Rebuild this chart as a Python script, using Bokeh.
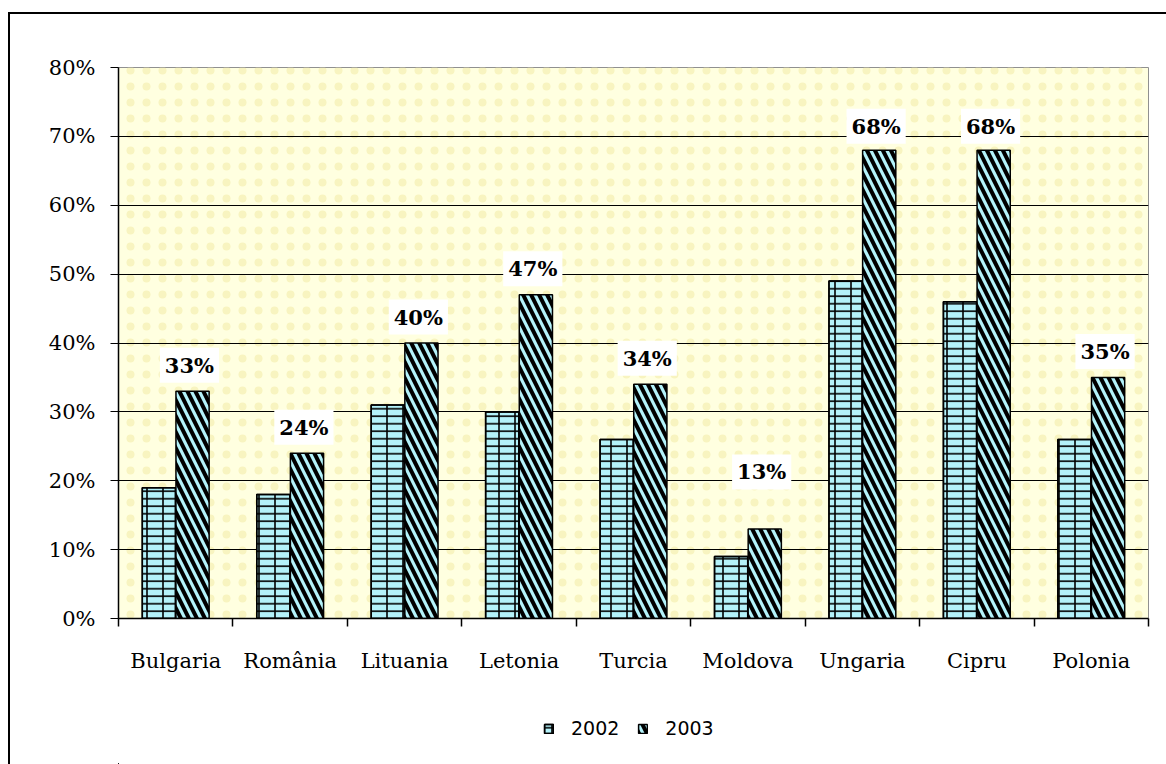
from bokeh.plotting import figure
from bokeh.layouts import column
from bokeh.models import (ColumnDataSource, FixedTicker, BoxAnnotation, Legend,
                          LegendItem, Range1d)
from bokeh.transform import dodge
from bokeh.core.properties import value
from bokeh.embed import file_html
from bokeh.resources import INLINE

# ---- data ----
countries = ["Bulgaria", "România", "Lituania", "Letonia", "Turcia",
             "Moldova", "Ungaria", "Cipru", "Polonia"]
v2002 = [19, 18, 31, 30, 26, 9, 49, 46, 26]
v2003 = [33, 24, 40, 47, 34, 13, 68, 68, 35]
series_names = ["2002", "2003"]
y_ticks = [0, 10, 20, 30, 40, 50, 60, 70, 80]

# label vertical offsets (px, styling)
label_offsets = [-26, -26, -26, -26, -26, -57, -24, -24, -26]

xs = [i + 0.5 for i in range(len(countries))]
src = ColumnDataSource(dict(
    x=xs, v2002=v2002, v2003=v2003,
    lbl=[f"{v}%" for v in v2003], yoff=label_offsets,
))

fill = "#B4F2FA"
style_2002 = dict(fill_color=fill, line_color="black", line_width=1.5,
                  hatch_pattern="horizontal_line", hatch_color="black",
                  hatch_scale=7.5, hatch_weight=1.6)
style_2002b = dict(fill_alpha=0, line_color="black", line_width=1.5,
                   hatch_pattern="vertical_line", hatch_color="black",
                   hatch_scale=16, hatch_weight=1.6)
style_2003 = dict(fill_color=fill, line_color="black", line_width=1.5,
                  hatch_pattern="left_diagonal_line", hatch_color="black",
                  hatch_scale=16, hatch_weight=4)

p = figure(width=1156, height=670, output_backend="svg", toolbar_location=None,
           x_range=Range1d(0, len(countries)), y_range=Range1d(0, 80),
           min_border_left=108, min_border_right=18, min_border_top=53,
           min_border_bottom=66, background_fill_color="#FFFFE0",
           border_fill_color="white", outline_line_color="#909090")

p.add_layout(BoxAnnotation(fill_alpha=0, line_alpha=0, hatch_pattern="dot",
                           hatch_color="#F8F4C0", hatch_scale=16, hatch_weight=1,
                           level="image"))

bar_w = 0.29
p.vbar(x=dodge("x", -0.147, range=p.x_range), top="v2002", width=bar_w,
       source=src, **style_2002)
p.vbar(x=dodge("x", -0.147, range=p.x_range), top="v2002", width=bar_w,
       source=src, **style_2002b)
p.vbar(x=dodge("x", 0.147, range=p.x_range), top="v2003", width=bar_w,
       source=src, **style_2003)

p.text(x=dodge("x", 0.12, range=p.x_range), y="v2003", text="lbl", source=src,
       y_offset="yoff", text_align="center", text_baseline="middle",
       text_font=value("DejaVu Serif"), text_font_style="bold",
       text_font_size="21px", text_color="black",
       background_fill_color="white", padding=5)

# axes
p.yaxis.ticker = FixedTicker(ticks=y_ticks)
p.yaxis.major_label_overrides = {t: f"{t}%" for t in y_ticks}
p.yaxis.major_label_text_font = "DejaVu Serif"
p.yaxis.major_label_text_font_size = "21px"
p.yaxis.major_label_text_color = "black"
p.yaxis.major_tick_out = 8
p.yaxis.major_tick_in = 0
p.yaxis.minor_tick_line_color = None
p.yaxis.major_label_standoff = 15
p.yaxis.axis_line_color = "black"
p.yaxis.axis_line_width = 1.5
p.yaxis.major_tick_line_color = "black"

p.xaxis.ticker = FixedTicker(ticks=xs, minor_ticks=list(range(len(countries) + 1)))
p.xaxis.major_label_overrides = {x: c for x, c in zip(xs, countries)}
p.xaxis.major_label_text_font = "DejaVu Serif"
p.xaxis.major_label_text_font_size = "21px"
p.xaxis.major_label_text_color = "black"
p.xaxis.major_tick_out = 0
p.xaxis.major_tick_in = 0
p.xaxis.minor_tick_out = 8
p.xaxis.minor_tick_in = 0
p.xaxis.minor_tick_line_color = "black"
p.xaxis.minor_tick_line_width = 1.5
p.xaxis.major_label_standoff = 22
p.xaxis.axis_line_color = "black"
p.xaxis.axis_line_width = 1.5

p.xgrid.grid_line_color = None
p.ygrid.ticker = FixedTicker(ticks=y_ticks[1:-1])
p.ygrid.grid_line_color = "black"
p.ygrid.grid_line_width = 1.2

# ---- legend strip (proxy bars lie outside its visible range) ----
q = figure(width=1156, height=80, output_backend="svg", toolbar_location=None,
           x_range=Range1d(100, 101), y_range=Range1d(100, 101), min_border=0,
           outline_line_color=None, background_fill_color="white",
           border_fill_color="white")
q.axis.visible = False
q.grid.visible = False
l1 = q.vbar(x="x", top="v2002", width=bar_w, source=src, **style_2002)
l1b = q.vbar(x="x", top="v2002", width=bar_w, source=src, **style_2002b)
l2 = q.vbar(x="x", top="v2003", width=bar_w, source=src, **style_2003)

legend = Legend(items=[LegendItem(label=series_names[0], renderers=[l1, l1b]),
                       LegendItem(label=series_names[1], renderers=[l2])],
                orientation="horizontal", location=(425, 25),
                border_line_color=None, background_fill_alpha=0,
                label_text_font="DejaVu Sans", label_text_font_size="19px",
                label_text_color="black",
                glyph_width=11, glyph_height=11, label_standoff=17, spacing=18,
                margin=0, padding=0)
q.add_layout(legend, "center")

layout = column(p, q, spacing=0)
layout.styles = {"border-left": "2px solid black", "border-top": "2px solid black",
                 "margin-left": "8px", "margin-top": "12px"}

open("out.html", "w").write(file_html(layout, INLINE))
